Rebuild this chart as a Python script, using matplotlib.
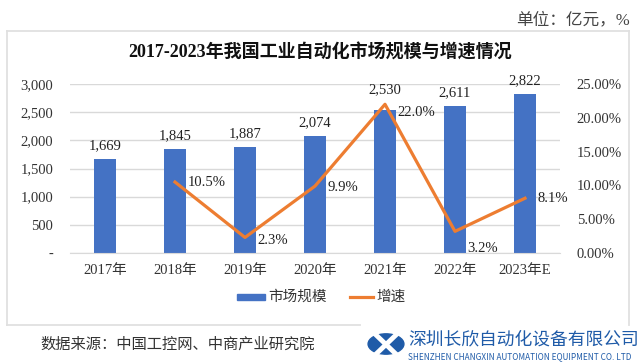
import matplotlib
matplotlib.use("Agg")
import matplotlib.pyplot as plt
from matplotlib.patches import Rectangle, Circle
from matplotlib.lines import Line2D

categories = ["2017年", "2018年", "2019年", "2020年", "2021年", "2022年", "2023年E"]
market_size = [1669, 1845, 1887, 2074, 2530, 2611, 2822]
growth_years = ["2018年", "2019年", "2020年", "2021年", "2022年", "2023年E"]
growth = [10.5, 2.3, 9.9, 22.0, 3.2, 8.1]
left_ticks = [0, 500, 1000, 1500, 2000, 2500, 3000]
right_ticks = [0, 5, 10, 15, 20, 25]

W, H = 640, 363
FAM = ["Liberation Serif", "Noto Sans CJK SC"]
SANS = ["Noto Sans CJK SC", "DejaVu Sans"]
BLUE = "#4472C4"
ORANGE = "#ED7D31"

fig = plt.figure(figsize=(W / 100, H / 100), dpi=100)
fig.patch.set_facecolor("white")

def fx(x):
    return x / W

def fy(y):
    return 1 - y / H

# chart frame
frame_col = "#E0E0E0"
fig.add_artist(Line2D([fx(7), fx(629)], [fy(31), fy(31)], color=frame_col, lw=1.3))
fig.add_artist(Line2D([fx(7), fx(7)], [fy(31), fy(325)], color=frame_col, lw=1.3))
fig.add_artist(Line2D([fx(629), fx(629)], [fy(31), fy(325)], color=frame_col, lw=1.3))
fig.add_artist(Line2D([fx(7), fx(360)], [fy(325), fy(325)], color=frame_col, lw=1.3))

ax = fig.add_axes([fx(70), fy(253), fx(560) - fx(70), fy(84) - fy(253)])
x = list(range(len(categories)))
bars = ax.bar(x, market_size, width=0.31, color=BLUE, zorder=2)
ax.set_xlim(-0.5, len(categories) - 0.5)
ax.set_ylim(0, 3000)
ax.set_yticks(left_ticks)
ax.set_yticklabels(["-" if v == 0 else f"{v:,}" for v in left_ticks], family=FAM, fontsize=10.5, color="#333333")
ax.set_xticks(x)
ax.set_xticklabels(categories, family=FAM, fontsize=10.5, color="#333333")
ax.tick_params(axis="both", length=0)
ax.tick_params(axis="y", pad=12)
ax.tick_params(axis="x", pad=8)
ax.grid(axis="y", color="#D9D9D9", lw=1, zorder=0)
for s in ["top", "right", "left"]:
    ax.spines[s].set_visible(False)
ax.spines["bottom"].set_color("#D9D9D9")
ax.set_axisbelow(True)

bar_offsets = [5, 5, 5, 5, 10, 5, 5]
for xi, v, dy in zip(x, market_size, bar_offsets):
    ax.annotate(f"{v:,}", (xi, v), xytext=(0, dy), textcoords="offset points",
                ha="center", va="bottom", family=FAM, fontsize=10.5, color="#222222")

ax2 = ax.twinx()
gx = [categories.index(c) for c in growth_years]
ax2.plot(gx, growth, color=ORANGE, lw=2.3, zorder=3)
ax2.set_ylim(0, 25)
ax2.set_yticks(right_ticks)
ax2.set_yticklabels([f"{v:.2f}%" for v in right_ticks], family=FAM, fontsize=10.5, color="#333333")
ax2.tick_params(axis="y", length=0, pad=12)
for s in ["top", "right", "left", "bottom"]:
    ax2.spines[s].set_visible(False)

offsets = [(9, 0), (9, -2), (9, -1), (9, -6), (9, -12), (9, 0)]
for xi, v, off in zip(gx, growth, offsets):
    ax2.annotate(f"{v:.1f}%", (xi, v), xytext=off, textcoords="offset points",
                 ha="left", va="center", family=FAM, fontsize=10.5, color="#222222")

# title
fig.text(0.5, fy(53), "2017-2023年我国工业自动化市场规模与增速情况", ha="center", va="center",
         family=FAM, fontsize=13, fontweight="bold", color="#111111")
fig.text(fx(630), fy(20), "单位：亿元，%", ha="right", va="center", family=FAM,
         fontsize=12, color="#444444")

# legend
fig.add_artist(Rectangle((fx(237), fy(300)), fx(265) - fx(237), fy(294) - fy(300),
                         transform=fig.transFigure, color=BLUE))
fig.text(fx(268), fy(297), "市场规模", ha="left", va="center", family=FAM, fontsize=10.5, color="#333333")
fig.add_artist(Line2D([fx(350), fx(373)], [fy(297), fy(297)], color=ORANGE, lw=2.3))
fig.text(fx(376), fy(297), "增速", ha="left", va="center", family=FAM, fontsize=10.5, color="#333333")

# source
fig.text(fx(40), fy(345), "数据来源：中国工控网、中商产业研究院", ha="left", va="center",
         family=FAM, fontsize=11, color="#333333")

# logo
fig.add_artist(Circle((fx(386), fy(344)), 0.028, transform=fig.transFigure, color="#1F5BA8"))
fig.add_artist(Line2D([fx(374), fx(398)], [fy(333), fy(356)], color="white", lw=3.5))
fig.add_artist(Line2D([fx(374), fx(398)], [fy(356), fy(333)], color="white", lw=3.5))
fig.text(fx(408), fy(339), "深圳长欣自动化设备有限公司", ha="left", va="center",
         family=SANS, fontsize=12.8, color="#1F5BA8")
fig.text(fx(408), fy(357), "SHENZHEN CHANGXIN AUTOMATION EQUIPMENT CO. LTD", ha="left", va="center",
         family=SANS, fontsize=5.9, color="#1F5BA8")

fig.savefig("out.png", dpi=100, facecolor="white")
